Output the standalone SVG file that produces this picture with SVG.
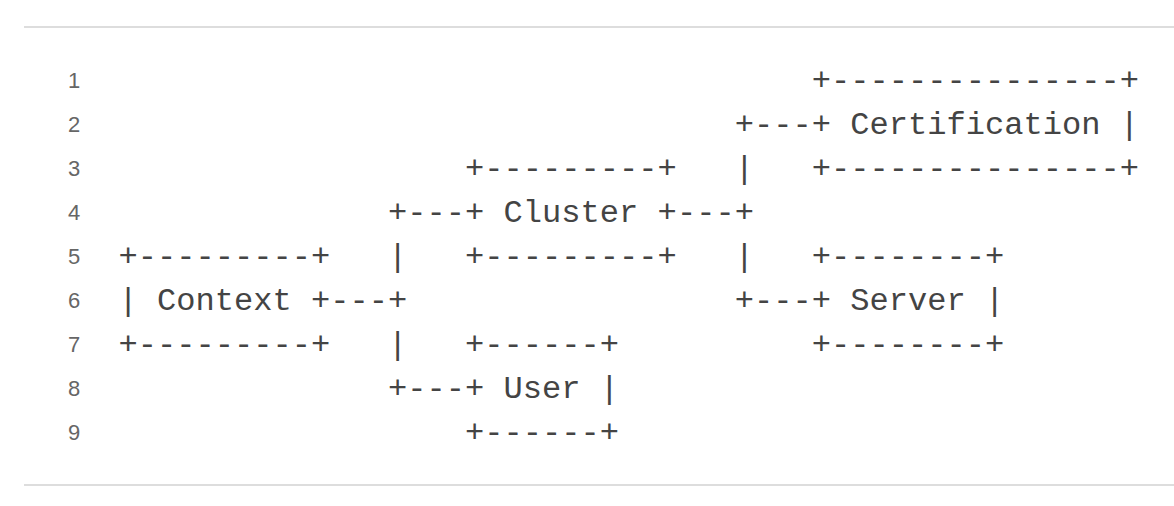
<svg xmlns="http://www.w3.org/2000/svg" width="1174" height="506" viewBox="0 0 1174 506">
<style>
.c{font-family:"Liberation Mono","DejaVu Sans Mono",monospace;font-size:32.1px;fill:#444}
.n{font-family:"Liberation Sans","DejaVu Sans",sans-serif;font-size:22px;fill:#666;text-anchor:middle}
.rule{stroke:#dddddd;stroke-width:2}
</style>
<rect width="1174" height="506" fill="#ffffff"/>
<line class="rule" x1="24" y1="27" x2="1174" y2="27"/>
<line class="rule" x1="24" y1="485" x2="1174" y2="485"/>
<g id="line-numbers">
<text class="n" x="74" y="87.5">1</text>
<text class="n" x="74" y="131.5">2</text>
<text class="n" x="74" y="175.5">3</text>
<text class="n" x="74" y="219.5">4</text>
<text class="n" x="74" y="263.5">5</text>
<text class="n" x="74" y="307.5">6</text>
<text class="n" x="74" y="351.5">7</text>
<text class="n" x="74" y="395.5">8</text>
<text class="n" x="74" y="439.5">9</text>
</g>
<g id="context">
<text class="c" x="118.4" y="266">+---------+</text>
<text class="c" x="118.4" y="310">| Context +</text>
<text class="c" x="118.4" y="354">+---------+</text>
</g>
<g id="cluster">
<text class="c" x="465.1" y="178">+---------+</text>
<text class="c" x="465.1" y="222">+ Cluster +</text>
<text class="c" x="465.1" y="266">+---------+</text>
</g>
<g id="user">
<text class="c" x="465.1" y="354">+------+</text>
<text class="c" x="465.1" y="398">+ User |</text>
<text class="c" x="465.1" y="442">+------+</text>
</g>
<g id="certification">
<text class="c" x="811.8" y="90">+---------------+</text>
<text class="c" x="811.8" y="134">+ Certification |</text>
<text class="c" x="811.8" y="178">+---------------+</text>
</g>
<g id="server">
<text class="c" x="811.8" y="266">+--------+</text>
<text class="c" x="811.8" y="310">+ Server |</text>
<text class="c" x="811.8" y="354">+--------+</text>
</g>
<g id="connectors">
<text class="c" x="388" y="222">+---</text>
<text class="c" x="388" y="266">|</text>
<text class="c" x="330.3" y="310">---+</text>
<text class="c" x="388" y="354">|</text>
<text class="c" x="388" y="398">+---</text>
<text class="c" x="676.9" y="222">---+</text>
<text class="c" x="734.7" y="178">|</text>
<text class="c" x="734.7" y="266">|</text>
<text class="c" x="734.7" y="134">+---</text>
<text class="c" x="734.7" y="310">+---</text>
</g>
</svg>
